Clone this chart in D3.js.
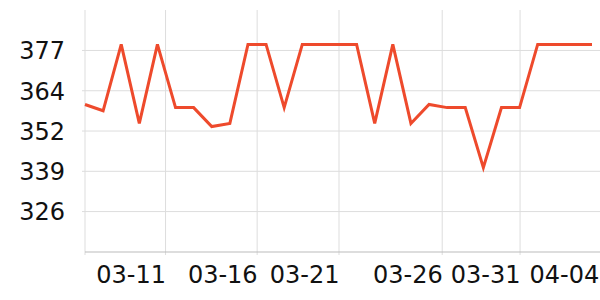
<!DOCTYPE html>
<html lang="en">
<head>
    <meta charset="UTF-8">
    <title>Chart</title>
    <style>
        body { margin: 0; background: #fff; }
        text { font-family: "DejaVu Sans", sans-serif; font-size: 24px; fill: #111; }
    </style>
</head>
<body>
    <svg width="600" height="300"></svg>
    <script src="https://d3js.org/d3.v7.min.js"></script>
    <script>

    // daily values (one point per sample)
    var values = [360, 358, 379, 354, 379, 359, 359, 353, 354, 379,
                  379, 359, 379, 379, 379, 379, 354, 379, 354, 360,
                  359, 359, 340, 359, 359, 379, 379, 379, 379];

    // x tick positions (in sample index) and their labels
    var xTickPos = [4.42, 9.48, 14.0, 19.7, 24.0, 28.35];
    var xTickLabels = ['03-11', '03-16', '03-21', '03-26', '03-31', '04-04'];

    // y ticks
    var yTickValues = [326.25, 339, 351.75, 364.5, 377.25];
    var yTickLabels = ['326', '339', '352', '364', '377'];

    var marge = {top: 10, bottom: 48, left: 85, right: 8};

    const svg = d3.select('svg');
    const width = +svg.attr('width');
    const height = +svg.attr('height');

    const x = d3.scaleLinear()
        .domain([0, values.length - 1])
        .range([marge.left, width - marge.right]);

    const y = d3.scaleLinear()
        .domain([313.3, 389.9])
        .range([height - marge.bottom, marge.top]);

    // horizontal grid + y ticks
    const gy = svg.append('g')
        .attr('transform', `translate(${marge.left},0)`)
        .call(d3.axisLeft(y)
            .tickValues(yTickValues)
            .tickFormat((d, i) => yTickLabels[i])
            .tickSize(3)
            .tickPadding(17));
    gy.select('.domain').remove();
    gy.selectAll('.tick line').attr('x2', width - marge.left).attr('x1', -3).attr('stroke', '#ddd');
    gy.selectAll('.tick text').attr('dy', '0.37em');

    // vertical grid + x ticks
    const gx = svg.append('g')
        .attr('transform', `translate(0,${height - marge.bottom})`)
        .call(d3.axisBottom(x)
            .tickValues(xTickPos)
            .tickFormat((d, i) => xTickLabels[i])
            .tickSize(3)
            .tickPadding(10));
    gx.select('.domain').remove();
    gx.selectAll('.tick line')
        .attr('y1', -(height - marge.bottom - marge.top))
        .attr('y2', 3)
        .attr('stroke', '#ddd');
    // last tick sits on the right edge, its grid line is off the picture
    gx.selectAll('.tick').filter((d, i) => i === xTickPos.length - 1)
        .select('line').remove();
    gx.selectAll('.tick text')
        .attr('text-anchor', 'end')
        .attr('dx', '0.02em')
        .attr('dy', '0.75em');

    // left axis line
    svg.append('line')
        .attr('x1', marge.left).attr('x2', marge.left)
        .attr('y1', marge.top).attr('y2', height - marge.bottom + 3)
        .attr('stroke', '#ddd');

    // bottom axis line
    svg.append('line')
        .attr('x1', marge.left).attr('x2', width)
        .attr('y1', height - marge.bottom).attr('y2', height - marge.bottom)
        .attr('stroke', '#bbb');

    const line = d3.line()
        .x((d, i) => x(i))
        .y(d => y(d));

    svg.append('path')
        .datum(values)
        .attr('fill', 'none')
        .attr('stroke', '#ee4a2c')
        .attr('stroke-width', 3)
        .attr('stroke-linejoin', 'miter')
        .attr('d', line);

    </script>
</body>
</html>
